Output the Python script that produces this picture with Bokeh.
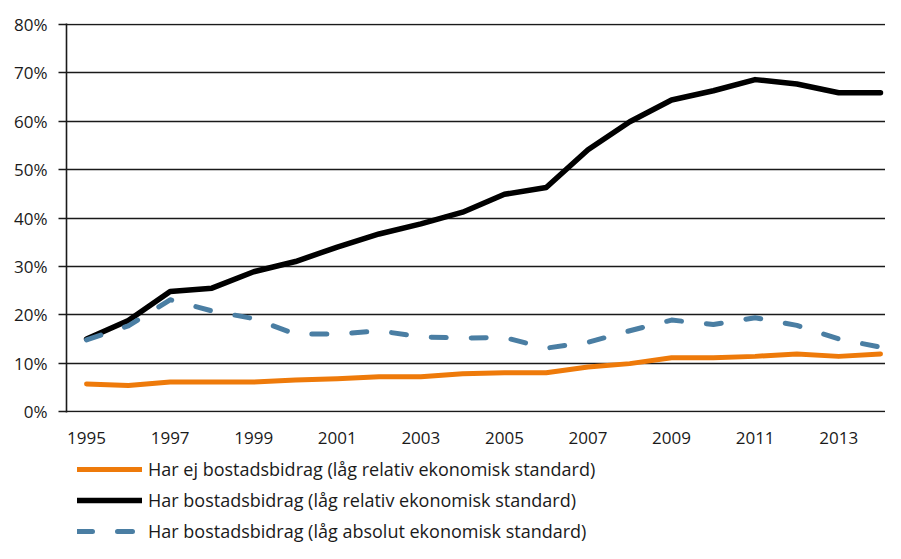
from bokeh.plotting import figure
from bokeh.layouts import column
from bokeh.models import Range1d, FixedTicker, Legend, LegendItem
from bokeh.embed import file_html
from bokeh.resources import INLINE

# data (percent)
years = list(range(1995, 2015))
ej_bidrag_relativ = [5.7, 5.4, 6.1, 6.1, 6.1, 6.5, 6.8, 7.2, 7.2, 7.8,
                     8.0, 8.0, 9.2, 9.9, 11.1, 11.1, 11.4, 11.9, 11.4, 11.9]
bidrag_relativ = [15.0, 18.8, 24.8, 25.5, 28.9, 31.0, 34.0, 36.7, 38.8, 41.2,
                  44.9, 46.3, 54.1, 59.9, 64.4, 66.3, 68.6, 67.7, 65.9, 65.9]
bidrag_absolut = [14.8, 17.7, 23.1, 20.8, 19.2, 16.0, 16.0, 16.7, 15.4, 15.2,
                  15.3, 13.1, 14.3, 16.7, 18.9, 18.0, 19.4, 17.8, 15.0, 13.3]
x_ticks = [1995, 1997, 1999, 2001, 2003, 2005, 2007, 2009, 2011, 2013]
y_ticks = [0, 10, 20, 30, 40, 50, 60, 70, 80]
labels = ["Har ej bostadsbidrag (låg relativ ekonomisk standard)",
          "Har bostadsbidrag (låg relativ ekonomisk standard)",
          "Har bostadsbidrag (låg absolut ekonomisk standard)"]

FONT = "Open Sans"
TXT = "#1a1a1a"
series = [ej_bidrag_relativ, bidrag_relativ, bidrag_absolut]
styles = [dict(line_color="#ee7a0a", line_width=5),
          dict(line_color="#000000", line_width=5.5),
          dict(line_color="#4a7ea3", line_width=5, line_dash="15 25")]

p = figure(width=885, height=452, output_backend="svg", toolbar_location=None, tools="",
           x_range=Range1d(1994.52, 2014.12), y_range=Range1d(-0.2, 80.2),
           min_border_left=66, min_border_top=23, min_border_right=0, min_border_bottom=40)
p.outline_line_color = None

# grid
p.xgrid.grid_line_color = None
p.ygrid.ticker = FixedTicker(ticks=y_ticks)
p.ygrid.grid_line_color = "#1a1a1a"
p.ygrid.grid_line_width = 1.6

# y axis
p.yaxis.ticker = FixedTicker(ticks=y_ticks)
p.yaxis.major_label_overrides = {t: f"{t}%" for t in y_ticks}
p.yaxis.axis_line_color = "#1a1a1a"
p.yaxis.axis_line_width = 1.6
p.yaxis.major_tick_line_color = "#1a1a1a"
p.yaxis.major_tick_line_width = 1.6
p.yaxis.major_tick_out = 8
p.yaxis.major_tick_in = 0
p.yaxis.minor_tick_line_color = None
p.yaxis.major_label_standoff = 11
p.yaxis.major_label_text_font = FONT
p.yaxis.major_label_text_font_size = "17px"
p.yaxis.major_label_text_color = TXT

# x axis
p.xaxis.ticker = FixedTicker(ticks=x_ticks)
p.xaxis.axis_line_color = None
p.xaxis.major_tick_line_color = None
p.xaxis.minor_tick_line_color = None
p.xaxis.major_label_standoff = 13
p.xaxis.major_label_text_font = FONT
p.xaxis.major_label_text_font_size = "17px"
p.xaxis.major_label_text_color = TXT

for vals, st in zip(series, styles):
    p.line(years, vals, line_cap="round", line_join="round", **st)

# legend sits in its own strip under the chart (frames are aligned by the column)
leg = figure(width=885, height=91, output_backend="svg", toolbar_location=None, tools="",
             x_range=Range1d(0, 1), y_range=Range1d(0, 1),
             min_border_left=66, min_border_right=0, min_border_top=0, min_border_bottom=0)
leg.axis.visible = False
leg.grid.visible = False
leg.outline_line_color = None

items = []
for lab, vals, st in zip(labels, series, styles):
    r = leg.line(years, vals, line_cap="round", visible=False, **st)
    items.append(LegendItem(label=lab, renderers=[r]))

legend = Legend(items=items, location=(11, 0), orientation="vertical", border_line_color=None,
                background_fill_alpha=0, inactive_fill_alpha=0, glyph_width=65, glyph_height=24,
                label_height=24, spacing=7, padding=0, margin=0, label_standoff=6,
                label_text_font=FONT, label_text_font_size="18px", label_text_color=TXT)
leg.add_layout(legend)

open("out.html", "w").write(file_html(column(p, leg, spacing=0), INLINE))
